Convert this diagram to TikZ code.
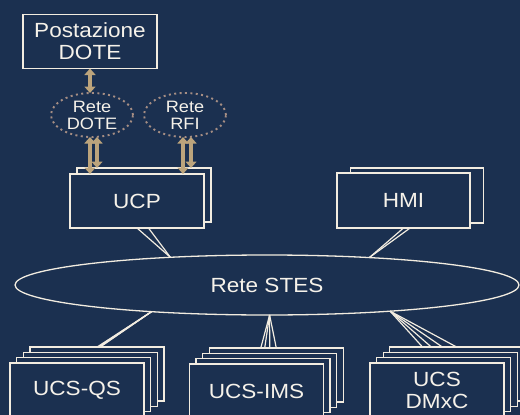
\documentclass[tikz,border=0pt]{standalone}
\usepackage{fontspec}
\setmainfont{Liberation Sans}[FakeStretch=1.1]
\usetikzlibrary{shapes.geometric,arrows.meta}
\definecolor{bgc}{HTML}{1B3050}
\definecolor{linec}{HTML}{F2ECE0}
\definecolor{textc}{HTML}{F6F2EA}
\definecolor{arrc}{HTML}{BCA47C}
\definecolor{dotc}{HTML}{A68E84}
\pgfdeclarelayer{bg}
\pgfdeclarelayer{edges}
\pgfsetlayers{bg,edges,main}
\begin{document}
\begin{tikzpicture}[x=1pt,y=-1pt,
  box/.style={draw=linec, line width=1.3pt, fill=bgc, minimum width=134pt, minimum height=54pt,
    inner sep=0pt, outer sep=0pt, text=textc, align=center, font=\fontsize{20.5}{22}\selectfont},
  rete/.style={ellipse, draw=dotc, line width=1.9pt, dash pattern=on 2pt off 3.4pt,
    minimum width=82pt, minimum height=44pt, inner sep=-3pt, outer sep=0pt, text=textc,
    align=center, font=\fontsize{16.5}{17}\selectfont},
  bigell/.style={ellipse, draw=linec, line width=1.3pt, minimum width=504pt, minimum height=60pt,
    inner sep=0pt, outer sep=0pt, text=textc, font=\fontsize{20.5}{22}\selectfont},
  link/.style={draw=linec, line width=1.2pt},
  dblarrow/.style={draw=arrc, line width=4.6pt,
    {Triangle[length=6.5pt,width=11pt]}-{Triangle[length=6.5pt,width=11pt]}},
]
\useasboundingbox (0,0) rectangle (520,415);
\begin{pgfonlayer}{bg}
\fill[bgc] (0,0) rectangle (520,415);
\end{pgfonlayer}

% top
\node[box] (post) at (90,41.5) {Postazione\\DOTE};
\node[rete] (rdote) at (92,115) {Rete\\DOTE};
\node[rete] (rrfi) at (185,115) {Rete\\RFI};

% UCP stack
\node[box] (ucpb) at (144,195) {};
\node[box] (ucp) at (137,201) {UCP};

% HMI stack
\node[box, minimum width=133pt, minimum height=55pt] (hmib) at (417,195.5) {};
\node[box, minimum width=133pt, minimum height=55pt] (hmi) at (403.5,200.5) {HMI};

% STES
\node[bigell] (stes) at (267,285) {Rete STES};

% UCS-QS stack
\node[box] (qs4) at (97,374.1) {};
\node[box] (qs3) at (90.4,379.4) {};
\node[box] (qs2) at (83.7,384.7) {};
\node[box] (qs) at (77,390) {UCS-QS};

% UCS-IMS stack
\node[box] (ims4) at (276.3,375.1) {};
\node[box] (ims3) at (269.7,380.4) {};
\node[box] (ims2) at (263.1,385.7) {};
\node[box] (ims) at (256.5,391) {UCS-IMS};

% UCS DMxC stack
\node[box] (dm4) at (456.8,374.1) {};
\node[box] (dm3) at (450.2,379.4) {};
\node[box] (dm2) at (443.6,384.7) {};
\node[box] (dm) at (437,390) {UCS\\DMxC};

% connectors
\begin{pgfonlayer}{edges}
\draw[link] (stes.164.6) -- (ucp.south);
\draw[link] (stes.164.6) -- (ucpb.south);
\draw[link] (stes.15.4) -- (hmi.south);
\draw[link] (stes.15.4) -- (hmib.south);
\foreach \n in {qs,qs2,qs3,qs4} \draw[link] (stes.193.6) -- (\n.north);
\foreach \n in {ims,ims2,ims3,ims4} \draw[link] (stes.275.7) -- (\n.north);
\foreach \n in {dm,dm2,dm3,dm4} \draw[link] (stes.348.9) -- (\n.north);
\end{pgfonlayer}

% double arrows
\draw[dblarrow] (post.south) -- (post.south |- rdote.north);
\draw[dblarrow] ([xshift=-47pt]ucp.north |- rdote.south) -- ([xshift=-47pt]ucp.north);
\draw[dblarrow] ([xshift=-47pt]ucpb.north |- rdote.south) -- ([xshift=-47pt]ucpb.north);
\draw[dblarrow] ([xshift=46pt]ucp.north |- rrfi.south) -- ([xshift=46pt]ucp.north);
\draw[dblarrow] ([xshift=47pt]ucpb.north |- rrfi.south) -- ([xshift=47pt]ucpb.north);
\end{tikzpicture}
\end{document}
